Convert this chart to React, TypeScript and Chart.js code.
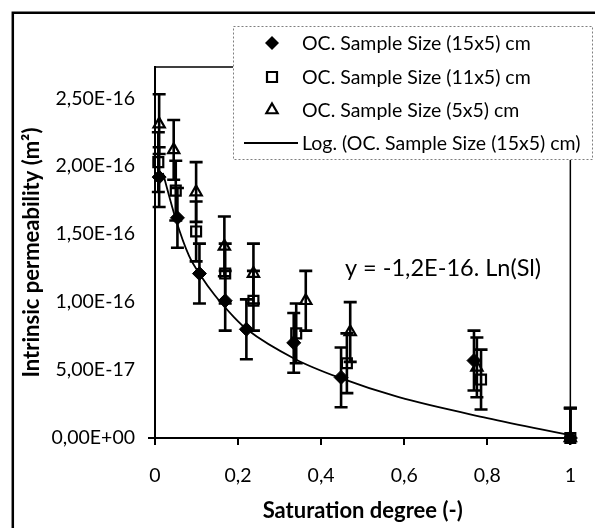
import React, { useEffect, useRef } from "react";
import { Chart, registerables } from "chart.js";

Chart.register(...registerables);

const FONT = "Lato";

// ---- data ----
const seriesLabels = [
  "OC. Sample Size (15x5) cm",
  "OC. Sample Size (11x5) cm",
  "OC. Sample Size (5x5) cm",
];
const trendLabel = "Log. (OC. Sample Size (15x5) cm)";

const sat15 = [0.01, 0.054, 0.107, 0.169, 0.22, 0.334, 0.448, 0.768, 1];
const perm15 = [1.92e-16, 1.62e-16, 1.21e-16, 1.01e-16, 0.8e-16, 0.7e-16, 0.446e-16, 0.57e-16, 0];

const sat11 = [0.008, 0.05, 0.099, 0.169, 0.237, 0.34, 0.462, 0.785, 1];
const perm11 = [2.03e-16, 1.82e-16, 1.52e-16, 1.21e-16, 1.01e-16, 0.77e-16, 0.55e-16, 0.43e-16, 0];

const sat5 = [0.01, 0.045, 0.099, 0.167, 0.237, 0.363, 0.47, 0.775, 1];
const perm5 = [2.31e-16, 2.12e-16, 1.81e-16, 1.41e-16, 1.21e-16, 1.01e-16, 0.78e-16, 0.52e-16, 0];

const errorValue = 2.2e-17;

const trendSat = [0.019, 0.05, 0.082, 0.109, 0.144, 0.19, 0.221, 0.338, 0.447, 0.587, 0.8, 1];
const trendPerm = [1.95e-16, 1.61e-16, 1.34e-16, 1.2e-16, 1.05e-16, 0.89e-16, 0.8e-16, 0.58e-16, 0.44e-16, 0.3e-16, 0.147e-16, 0.02e-16];

const yTickValues = [0, 0.5e-16, 1e-16, 1.5e-16, 2e-16, 2.5e-16];
const yTickLabels = ["0,00E+00", "5,00E-17", "1,00E-16", "1,50E-16", "2,00E-16", "2,50E-16"];
const xTickValues = [0, 0.2, 0.4, 0.6, 0.8, 1];
const xTickLabels = ["0", "0,2", "0,4", "0,6", "0,8", "1"];
const yMax = 2.73e-16;

const xTitle = "Saturation degree (-)";
const yTitle = "Intrinsic permeability (m²)";
const equationText = "y = -1,2E-16. Ln(Sl)";

const toPts = (xs: number[], ys: number[]) => xs.map((x, i) => ({ x, y: ys[i] }));

function drawMarker(ctx: CanvasRenderingContext2D, style: string, x: number, y: number) {
  ctx.save();
  ctx.strokeStyle = "#000";
  ctx.lineWidth = 2.2;
  ctx.beginPath();
  if (style === "diamond") {
    const r = 7;
    ctx.moveTo(x, y - r);
    ctx.lineTo(x + r, y);
    ctx.lineTo(x, y + r);
    ctx.lineTo(x - r, y);
    ctx.closePath();
    ctx.fillStyle = "#000";
    ctx.fill();
  } else if (style === "square") {
    const h = 5;
    ctx.rect(x - h, y - h, 2 * h, 2 * h);
    ctx.fillStyle = "#fff";
    ctx.fill();
    ctx.stroke();
  } else if (style === "triangle") {
    const r = 6.5;
    ctx.moveTo(x, y - r);
    ctx.lineTo(x + r * 0.866, y + r * 0.5);
    ctx.lineTo(x - r * 0.866, y + r * 0.5);
    ctx.closePath();
    ctx.fillStyle = "#fff";
    ctx.fill();
    ctx.stroke();
  } else {
    ctx.moveTo(x - 27, y);
    ctx.lineTo(x + 27, y);
    ctx.lineWidth = 1.8;
    ctx.stroke();
  }
  ctx.restore();
}

const framePlugin = {
  id: "frame",
  beforeDraw(chart: any) {
    const { ctx, width, height } = chart;
    ctx.save();
    ctx.fillStyle = "#fff";
    ctx.fillRect(0, 0, width, height);
    ctx.strokeStyle = "#000";
    ctx.lineWidth = 2.5;
    ctx.beginPath();
    ctx.moveTo(12.8, height + 5);
    ctx.lineTo(12.8, 12.8);
    ctx.lineTo(width + 5, 12.8);
    ctx.stroke();
    ctx.restore();
  },
  beforeDatasetsDraw(chart: any) {
    const { ctx, chartArea: a } = chart;
    ctx.save();
    ctx.strokeStyle = "#000";
    ctx.lineWidth = 1.5;
    ctx.beginPath();
    ctx.moveTo(a.left, a.top);
    ctx.lineTo(a.right, a.top);
    ctx.lineTo(a.right, a.bottom);
    ctx.stroke();
    ctx.lineWidth = 2;
    ctx.beginPath();
    ctx.moveTo(a.left - 7, a.bottom);
    ctx.lineTo(a.left, a.bottom);
    ctx.stroke();
    ctx.restore();
  },
  afterDatasetDraw(chart: any, args: any) {
    const ds = chart.data.datasets[args.index];
    if (!ds.errorBars) return;
    const { ctx, chartArea: a } = chart;
    const ys = chart.scales.y;
    ctx.save();
    ctx.beginPath();
    ctx.rect(a.left - 10, a.top, a.right - a.left + 20, a.bottom - a.top);
    ctx.clip();
    ctx.strokeStyle = "#000";
    ctx.lineWidth = 2.6;
    const cap = 6.5;
    args.meta.data.forEach((el: any, i: number) => {
      const v = ds.data[i].y;
      const x = el.x;
      const yTop = ys.getPixelForValue(v + errorValue);
      const yBot = ys.getPixelForValue(v - errorValue);
      ctx.beginPath();
      ctx.moveTo(x, yTop);
      ctx.lineTo(x, yBot);
      ctx.moveTo(x - cap, yTop);
      ctx.lineTo(x + cap, yTop);
      ctx.moveTo(x - cap, yBot);
      ctx.lineTo(x + cap, yBot);
      ctx.stroke();
    });
    ctx.restore();
  },
  afterDraw(chart: any) {
    const { ctx } = chart;
    ctx.save();
    // equation
    ctx.font = `23.5px ${FONT}`;
    ctx.fillStyle = "#000";
    ctx.textAlign = "center";
    ctx.textBaseline = "middle";
    ctx.fillText(equationText, 443, 268);
    // legend box
    const L = 233, T = 26, R = 593, B = 160;
    ctx.fillStyle = "#fff";
    ctx.fillRect(L, T, R - L, B - T);
    ctx.strokeStyle = "#7f7f7f";
    ctx.lineWidth = 1;
    ctx.setLineDash([2, 2]);
    ctx.strokeRect(L + 0.5, T + 0.5, R - L - 1, B - T - 1);
    ctx.setLineDash([]);
    const rows = [
      { style: "diamond", text: seriesLabels[0], y: 43, mx: 272 },
      { style: "square", text: seriesLabels[1], y: 77, mx: 272 },
      { style: "triangle", text: seriesLabels[2], y: 110, mx: 272 },
      { style: "line", text: trendLabel, y: 143, mx: 271 },
    ];
    rows.forEach((r) => {
      drawMarker(ctx, r.style, r.mx, r.y);
      ctx.fillStyle = "#000";
      ctx.font = `19.5px ${FONT}`;
      ctx.textAlign = "left";
      ctx.textBaseline = "middle";
      ctx.fillText(r.text, 302, r.y + 1);
    });
    ctx.restore();
  },
};

export default function App() {
  const ref = useRef<HTMLCanvasElement>(null);
  useEffect(() => {
    if (!ref.current) return;
    const chart = new Chart(ref.current, {
      type: "scatter",
      data: {
        datasets: [
          {
            label: seriesLabels[0],
            data: toPts(sat15, perm15),
            pointStyle: "rectRot",
            pointRadius: 7,
            backgroundColor: "#000",
            borderColor: "#000",
            borderWidth: 1,
            order: 3,
            clip: false,
            errorBars: true,
          } as any,
          {
            label: seriesLabels[1],
            data: toPts(sat11, perm11),
            pointStyle: "rect",
            pointRadius: 7,
            backgroundColor: "rgba(255,255,255,0)",
            borderColor: "#000",
            borderWidth: 2.2,
            order: 2,
            clip: false,
            errorBars: true,
          } as any,
          {
            label: seriesLabels[2],
            data: toPts(sat5, perm5),
            pointStyle: "triangle",
            pointRadius: 6.5,
            backgroundColor: "rgba(255,255,255,0)",
            borderColor: "#000",
            borderWidth: 2.2,
            order: 1,
            clip: false,
            errorBars: true,
          } as any,
          {
            label: trendLabel,
            data: toPts(trendSat, trendPerm),
            showLine: true,
            pointRadius: 0,
            borderColor: "#000",
            borderWidth: 1.8,
            cubicInterpolationMode: "monotone",
            order: 4,
          } as any,
        ],
      },
      options: {
        responsive: false,
        animation: false,
        layout: { padding: { left: 0, top: 67, right: 11, bottom: 0 } },
        plugins: { legend: { display: false }, tooltip: { enabled: false } },
        scales: {
          x: {
            type: "linear",
            min: 0,
            max: 1,
            afterBuildTicks: (s: any) => {
              s.ticks = xTickValues.map((v) => ({ value: v }));
            },
            afterFit: (s: any) => {
              s.height = 90;
            },
            ticks: {
              callback: (_v: any, i: number) => xTickLabels[i],
              color: "#000",
              font: { family: FONT, size: 19.5 },
              padding: 19,
              maxRotation: 0,
              autoSkip: false,
            },
            grid: {
              display: true,
              drawOnChartArea: false,
              drawTicks: true,
              tickLength: 7,
              color: "#000",
              lineWidth: 2,
            },
            border: { display: true, color: "#000", width: 2 },
            title: {
              display: true,
              text: xTitle,
              color: "#000",
              font: { family: FONT, size: 22, weight: "bold" },
              padding: { top: 0, bottom: 4 },
            },
          },
          y: {
            type: "linear",
            min: 0,
            max: yMax,
            afterBuildTicks: (s: any) => {
              s.ticks = yTickValues.map((v) => ({ value: v }));
            },
            afterFit: (s: any) => {
              s.width = 155;
            },
            ticks: {
              callback: (_v: any, i: number) => yTickLabels[i],
              color: "#000",
              font: { family: FONT, size: 19.5 },
              padding: 20,
              autoSkip: false,
            },
            grid: { display: true, drawOnChartArea: false, drawTicks: false },
            border: { display: true, color: "#000", width: 2 },
            title: {
              display: true,
              text: yTitle,
              color: "#000",
              font: { family: FONT, size: 22, weight: "bold" },
              padding: { top: 19, bottom: 0 },
            },
          },
        },
      } as any,
      plugins: [framePlugin as any],
    });
    return () => chart.destroy();
  }, []);
  return (
    <div style={{ position: "absolute", left: 0, top: 0, width: 595, height: 528, overflow: "hidden" }}>
      <canvas ref={ref} width={595} height={528} style={{ display: "block" }} />
    </div>
  );
}
